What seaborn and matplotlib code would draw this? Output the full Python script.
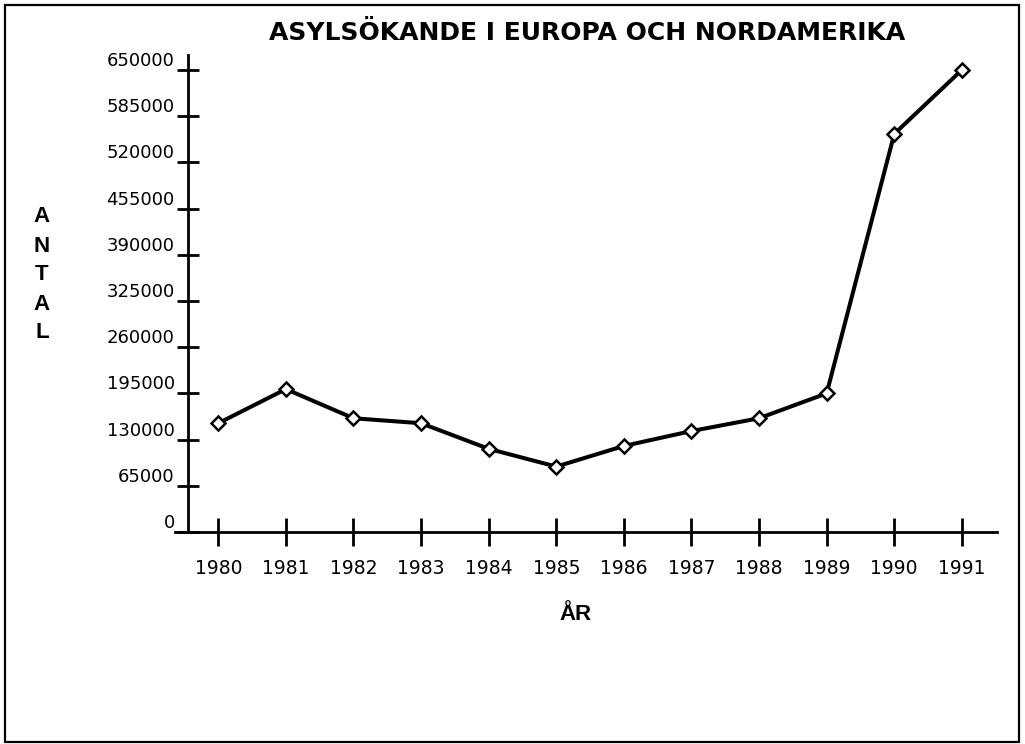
import matplotlib
matplotlib.use("Agg")
import matplotlib.pyplot as plt
from matplotlib.patches import Rectangle
import seaborn as sns
import pandas as pd

# asylum seekers in Europe and North America
years = [1980, 1981, 1982, 1983, 1984, 1985, 1986, 1987, 1988, 1989, 1990, 1991]
seekers = [153000, 201000, 160000, 153000, 117000, 92000,
           121000, 142000, 160000, 195000, 560000, 650000]
y_ticks = [0, 65000, 130000, 195000, 260000, 325000, 390000,
           455000, 520000, 585000, 650000]
year_labels = [str(y) for y in years]

df = pd.DataFrame({"year": years, "antal": seekers})

sns.set_style("ticks")
plt.rcParams["font.family"] = ["DejaVu Sans"]
plt.rcParams["text.color"] = "black"

fig = plt.figure(figsize=(10.25, 7.44), dpi=100)
ax = fig.add_axes([175 / 1025, (744 - 532) / 744, 822 / 1025, 477 / 744])

sns.lineplot(data=df, x="year", y="antal", ax=ax, color="black", linewidth=2.9,
             marker="D", markersize=7.5, markerfacecolor="white",
             markeredgecolor="black", markeredgewidth=1.8)

ax.set_xlim(1979.36, 1991.52)
ax.set_ylim(0, 671000)

# axes drawn like the old plotter: crossing ticks, y axis pulled in
for side in ["top", "right"]:
    ax.spines[side].set_visible(False)
ax.spines["left"].set_position(("data", 1979.55))
for side in ["left", "bottom"]:
    ax.spines[side].set_linewidth(2)
    ax.spines[side].set_color("black")

ax.set_xticks(years)
ax.set_xticklabels(year_labels)
ax.set_yticks(y_ticks)
ax.set_yticklabels([str(v) for v in y_ticks])
ax.tick_params(axis="x", bottom=True, direction="inout", length=19.5, width=2,
               pad=10, labelsize=13.5, colors="black")
ax.tick_params(axis="y", left=True, direction="inout", length=16, width=2,
               pad=1.5, labelsize=13, colors="black")
for lab in ax.get_yticklabels():
    lab.set_verticalalignment("bottom")

ax.set_xlabel("")
ax.set_ylabel("")

fig.text(587 / 1025, (744 - 33) / 744, "ASYLSÖKANDE I EUROPA OCH NORDAMERIKA",
         ha="center", va="center", fontsize=18, fontweight="bold")
fig.text(42 / 1025, (744 - 275) / 744, "A\nN\nT\nA\nL", ha="center", va="center",
         fontsize=16, fontweight="bold", linespacing=1.5,
         family="Liberation Sans")
fig.text(576 / 1025, (744 - 620) / 744, "ÅR", ha="center", va="baseline",
         fontsize=16, fontweight="bold", family="Liberation Sans")

# page frame around the whole chart
fig.add_artist(Rectangle((5 / 1025, 2 / 744), 1014 / 1025, 737 / 744,
                         transform=fig.transFigure, fill=False,
                         edgecolor="black", linewidth=1.6))

plt.savefig("out.png", dpi=100)
plt.close()
